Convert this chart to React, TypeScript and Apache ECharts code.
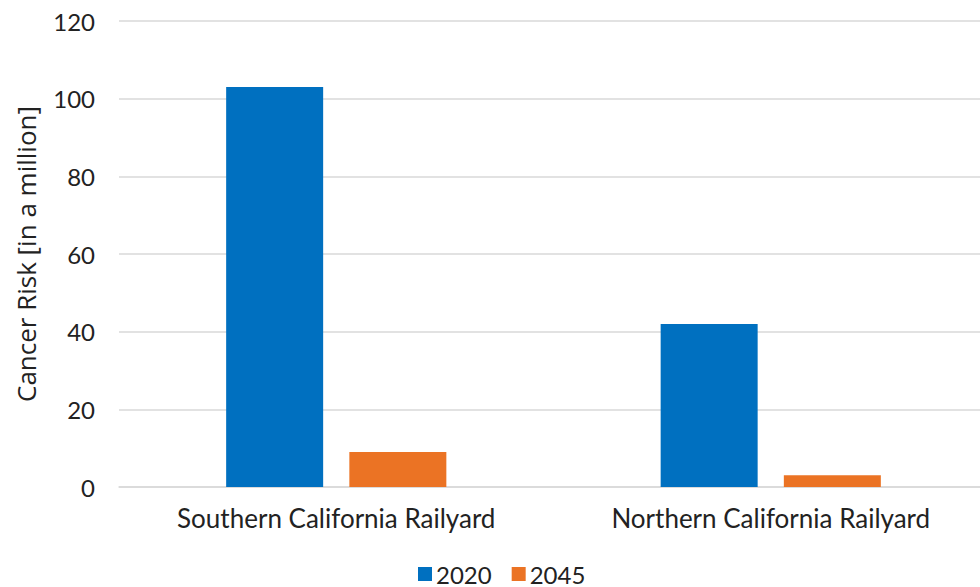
import React, { useEffect, useRef } from "react";
import * as echarts from "echarts";

const categories = ["Southern California Railyard", "Northern California Railyard"];
const risk2020 = [103, 42];
const risk2045 = [9, 3];
const seriesNames = ["2020", "2045"];
const colors = ["#0070C0", "#EB7324"];

export default function App() {
  const ref = useRef<HTMLDivElement>(null);

  useEffect(() => {
    if (!ref.current) return;
    const chart = echarts.init(ref.current, null, { renderer: "svg" });
    const labelFont = "Lato, 'Noto Sans', sans-serif";
    chart.setOption({
      animation: false,
      color: colors,
      // the plot runs a little past the visible right edge; the outer box clips it
      grid: { left: 119, right: 0, top: 21, bottom: 100, containLabel: false },
      legend: {
        bottom: -4,
        left: 413,
        itemWidth: 14,
        itemHeight: 14,
        itemGap: 20,
        icon: "rect",
        textStyle: { fontSize: 24, color: "#222", fontFamily: labelFont, padding: [0, 0, 0, -1] },
        data: seriesNames,
      },
      xAxis: {
        type: "category",
        data: categories,
        axisLine: { lineStyle: { color: "#d9d9d9", width: 1.5 } },
        axisTick: { show: false },
        axisLabel: { fontSize: 26, color: "#222", fontFamily: labelFont, margin: 18 },
      },
      yAxis: {
        type: "value",
        min: 0,
        max: 120,
        interval: 20,
        name: "Cancer Risk [in a million]",
        nameLocation: "middle",
        nameGap: 80,
        nameTextStyle: { fontSize: 26, color: "#222", fontFamily: "'Open Sans', sans-serif" },
        axisLine: { show: false },
        axisTick: { show: false },
        splitLine: { lineStyle: { color: "#d9d9d9", width: 1.5 } },
        axisLabel: { fontSize: 24, color: "#222", fontFamily: labelFont, margin: 24 },
      },
      series: [
        { name: seriesNames[0], type: "bar", data: risk2020, barWidth: 97, barGap: "27%" },
        { name: seriesNames[1], type: "bar", data: risk2045, barWidth: 97, barGap: "27%" },
      ],
    });
    return () => chart.dispose();
  }, []);

  return (
    <div
      style={{
        position: "fixed",
        left: 0,
        top: 0,
        width: 980,
        height: 587,
        overflow: "hidden",
        background: "#fff",
      }}
    >
      <div ref={ref} style={{ width: 988, height: 587 }} />
    </div>
  );
}
